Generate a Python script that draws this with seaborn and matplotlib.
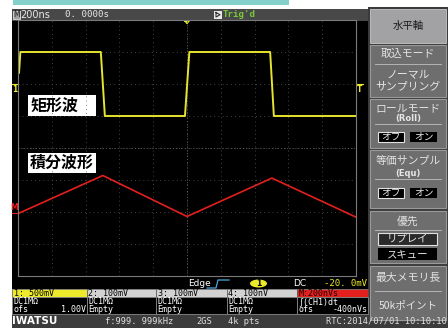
import matplotlib
matplotlib.use("Agg")
import matplotlib.pyplot as plt
from matplotlib.patches import Rectangle, Ellipse
import pandas as pd
import seaborn as sns

# waveform values, in screen divisions (x: 0..10, y: -4..4)
square_t = [0.03, 0.07, 2.45, 2.57, 4.94, 5.07, 7.46, 7.57, 10.0]
square_v = [2.35, 3.0, 3.0, 1.0, 1.0, 3.0, 3.0, 1.0, 1.0]
integ_t = [0.0, 2.51, 5.0, 7.51, 10.0]
integ_v = [-2.05, -0.86, -2.14, -0.94, -2.16]

# channel table under the screen
ch_head = ["1: 500mV", "2: 100mV", "3: 100mV", "4: 100nV", "M:200nVs"]
ch_coupling = ["DC1MΩ", "DC1MΩ", "DC1MΩ", "DC1MΩ", "∫(CH1)dt"]
ch_info = ["", "Empty", "Empty", "Empty", ""]
ch_ofs = ["1.00V", "", "", "", "-400nVs"]

# side menu
menu_title = "水平軸"
menu_items = [
    ("取込モード", ["ノーマル", "サンプリング"]),
    ("ロールモード", ["(Roll)"]),
    ("等価サンプル", ["(Equ)"]),
    ("優先", []),
    ("最大メモリ長", ["50kポイント"]),
]

JP = ["Noto Sans CJK JP", "DejaVu Sans"]
MONO = ["DejaVu Sans Mono", "DejaVu Sans"]
SANS = ["DejaVu Sans"]

YEL = "#ecea2a"
RED = "#e3201e"

fig = plt.figure(figsize=(4.48, 3.34), dpi=100)
fig.patch.set_facecolor("white")
bg = fig.add_axes([0, 0, 1, 1])
bg.set_xlim(0, 448)
bg.set_ylim(334, 0)
bg.axis("off")


def box(x0, y0, x1, y1, fc, ec="none", lw=0.0, z=1):
    bg.add_patch(Rectangle((x0, y0), x1 - x0, y1 - y0, facecolor=fc,
                           edgecolor=ec, linewidth=lw, zorder=z))


def txt(x, y, s, size=6.0, color="white", ha="left", fam=MONO, weight="normal", z=5):
    bg.text(x, y, s, fontsize=size, color=color, ha=ha, va="center",
            family=fam, fontweight=weight, zorder=z)


# frame pieces
box(13, 0, 289, 4.5, "#84d0ca")
box(12, 9, 368, 20.5, "#484848")
box(12, 20.5, 368, 289, "black")
box(368, 7, 448, 328, "#3a3a3a")
box(12, 314, 448, 328, "#3c3c3c")

# header
box(13, 10.5, 19.5, 19, "#a0a0a0", "#e0e0e0", 0.6, z=3)
txt(16.3, 14.9, "M", size=5.5, color="#202020", ha="center", fam=SANS)
txt(20, 14.9, "200ns", size=7, color="#e8e8e8", fam=SANS)
txt(65, 14.9, "0. 0000s", size=6.6, color="#e8e8e8")
box(214, 10.5, 221.5, 19, "#e8e8e8", z=3)
bg.plot([216, 216, 220, 216], [12.5, 17, 14.75, 12.5], color="#303030", lw=0.8, zorder=4)
txt(222.5, 14.9, "Trig'd", size=6.6, color="#78c83a", weight="bold")

# waveform screen
ax = fig.add_axes([18 / 448, 1 - 276 / 334, 338 / 448, 256 / 334])
ax.set_facecolor("none")
sq = pd.DataFrame({"t": square_t, "v": square_v})
it = pd.DataFrame({"t": integ_t, "v": integ_v})
sns.lineplot(data=sq, x="t", y="v", ax=ax, color="#e6e42c", lw=1.4,
             sort=False, estimator=None)
sns.lineplot(data=it, x="t", y="v", ax=ax, color=RED, lw=1.2,
             sort=False, estimator=None)
ax.set_xlim(0, 10)
ax.set_ylim(-4, 4)
ax.set_xticks(range(11))
ax.set_yticks(range(-4, 5))
ax.tick_params(length=0, labelbottom=False, labelleft=False)
ax.set_axisbelow(True)
ax.grid(True, color="#5a5a5a", linestyle=(0, (1, 4)), linewidth=0.6)
ax.axvline(5, color="#707070", linestyle=(0, (1, 2.5)), lw=0.6, zorder=0)
ax.axhline(0, color="#707070", linestyle=(0, (1, 2.5)), lw=0.6, zorder=0)
ax.set_xlabel("")
ax.set_ylabel("")
for sp in ax.spines.values():
    sp.set_color("#7a7a7a")
    sp.set_linewidth(0.8)

# labels on the screen
box(28, 95, 96, 116, "white", z=6)
txt(30, 105.5, "矩形波", size=11.5, color="black", fam=JP, weight="bold", z=7)
box(28, 153, 96, 173, "white", z=6)
txt(30, 163, "積分波形", size=11.5, color="black", fam=JP, weight="bold", z=7)

# channel markers
bg.plot([12, 18], [84, 84], color=YEL, lw=0.8, zorder=4)
txt(12.5, 89, "1", size=5.5, color=YEL, fam=SANS, weight="bold")
bg.plot([357, 363], [84, 84], color=YEL, lw=0.8, zorder=4)
txt(360, 90, "T", size=5.5, color=YEL, ha="center", fam=SANS, weight="bold")
bg.plot([185, 189, 187, 185], [21, 21, 23.5, 21], color=YEL, lw=1, zorder=4)
bg.plot([12, 18], [213, 213], color=RED, lw=0.8, zorder=4)
txt(14.5, 207.5, "M", size=5.5, color=RED, ha="center", fam=SANS, weight="bold")

# trigger row
txt(188, 283.5, "Edge", size=6.5, color="white", fam=SANS)
bg.plot([207, 216, 218, 229], [288, 288, 280, 280], color="#4aa8dc", lw=0.9, zorder=4)
bg.add_patch(Ellipse((258.5, 283.5), 17, 8, facecolor=YEL, zorder=4))
txt(258.5, 283.7, "1", size=5.5, color="black", ha="center", fam=SANS, weight="bold")
txt(293, 283.5, "DC", size=6.5, color="white", fam=SANS)
txt(367, 283.5, "-20. 0mV", size=6.5, color=YEL, ha="right")

# channel table
edges = [12, 87, 156, 227, 297, 368]
for i in range(5):
    x0, x1 = edges[i], edges[i + 1]
    if i == 0:
        fc, tc = YEL, "black"
    elif i == 4:
        fc, tc = RED, "#200000"
    else:
        fc, tc = "#d2d2d2", "black"
    box(x0, 289, x1, 297, fc, "#555555", 0.5, z=2)
    box(x0, 297, x1, 314, "black", "#8a8a8a", 0.6, z=2)
    txt(x0 + 1.5, 293.2, ch_head[i], color=tc)
    txt(x0 + 1.5, 301.5, ch_coupling[i])
    if ch_info[i]:
        txt(x0 + 1.5, 309.6, ch_info[i])
    if ch_ofs[i]:
        txt(x0 + 1.5, 309.6, "ofs")
        txt(x1 - 0.5, 309.6, ch_ofs[i], ha="right")

# bottom status bar
txt(12, 321.2, "IWATSU", size=7.5, color="white", fam=SANS, weight="bold")
txt(105, 321.2, "f:999. 999kHz", size=6.3, color="#e0e0e0")
txt(196, 321.2, "2GS", size=6.3, color="#e0e0e0")
txt(228, 321.2, "4k pts", size=6.3, color="#e0e0e0")
txt(447, 321.2, "RTC:2014/07/01 10:10:10", size=6.3, color="#e0e0e0", ha="right")

# side menu buttons
MX0, MX1, MC = 370, 446, 408
box(MX0, 9, MX1, 43, "#a2a2a4", "#c8c8c8", 0.6, z=2)
txt(MC, 26, menu_title, size=7.5, color="#1a1a1a", ha="center", fam=JP)

spans = [(45, 97, 64), (99, 148, 124), (150, 208, 179), (211, 263, 230), (266, 320, 291)]
title_y = [54, 108, 161, 221, 278]
for (y0, y1, ysep), ty, (title, subs) in zip(spans, title_y, menu_items):
    box(MX0, y0, MX1, y1, "#6e6e6e", "#9a9a9a", 0.8, z=2)
    bg.plot([MX0 + 5, MX1 - 5], [ysep, ysep], color="#b4b4b4", lw=0.7, zorder=3)
    txt(MC, ty, title, size=7.8, color="#e2e2e2", ha="center", fam=JP)

MT = "#e6e6e6"
txt(MC, 74, menu_items[0][1][0], size=7.8, color=MT, ha="center", fam=JP)
txt(MC, 86, menu_items[0][1][1], size=7.8, color=MT, ha="center", fam=JP)
txt(MC, 118.5, menu_items[1][1][0], size=6, color=MT, ha="center", fam=SANS, weight="bold")
txt(MC, 173, menu_items[2][1][0], size=6, color=MT, ha="center", fam=SANS, weight="bold")
txt(MC, 305, menu_items[4][1][0], size=7.5, color=MT, ha="center", fam=JP)

for yc in (137, 193):
    box(378, yc - 5, 404, yc + 5, "black", "#e0e0e0", 0.8, z=3)
    txt(391, yc, "オフ", size=7, color=MT, ha="center", fam=JP)
    box(410, yc - 5, 437, yc + 5, "black", z=3)
    txt(423.5, yc, "オン", size=7, color=MT, ha="center", fam=JP)

box(378, 233, 437, 245, "#2a2a2a", "#e0e0e0", 0.8, z=3)
txt(407.5, 239, "リプレイ", size=7.5, color=MT, ha="center", fam=JP)
box(378, 248, 437, 260, "black", z=3)
txt(407.5, 254, "スキュー", size=7.5, color=MT, ha="center", fam=JP)

fig.savefig("out.png", dpi=100, facecolor="white")
